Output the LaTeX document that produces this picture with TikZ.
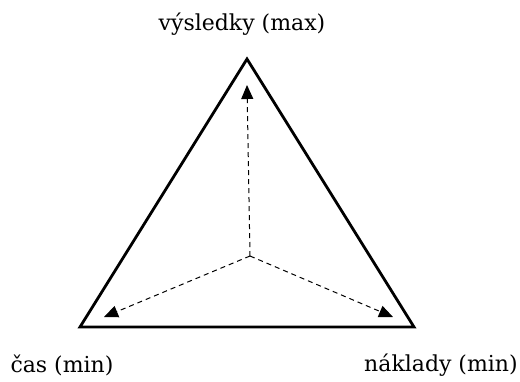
\documentclass[tikz,border=0pt]{standalone}
\usepackage{fontspec}
\setmainfont{DejaVu Serif}
\usepackage{tikz}
\usetikzlibrary{calc,arrows.meta,positioning}

\begin{document}
\begin{tikzpicture}[x=0.5pt, y=-0.5pt, font=\fontsize{11}{13}\selectfont]
    \useasboundingbox (0, 0) rectangle (520, 381);
    % Vertices of the triangle
    \coordinate (Top) at (247, 59);
    \coordinate (Left) at (80, 327);
    \coordinate (Right) at (414, 327);
    \coordinate (Centre) at (250, 256);
    
    % Triangle
    \draw[line width=1.4pt, line join=miter] (Top) -- (Left) -- (Right) -- cycle;
    
    % Arrow ends near the corners
    \coordinate (TipTop) at (247, 85);
    \coordinate (TipLeft) at (104, 317);
    \coordinate (TipRight) at (393, 317);
    
    % Dashed arrows from the centre
    \draw[dash pattern=on 2.5pt off 2pt, line width=0.5pt, -{Triangle[length=7pt, width=6pt]}] (Centre) -- (TipTop);
    \draw[dash pattern=on 2.5pt off 2pt, line width=0.5pt, -{Triangle[length=7pt, width=6pt]}] (Centre) -- (TipLeft);
    \draw[dash pattern=on 2.5pt off 2pt, line width=0.5pt, -{Triangle[length=7pt, width=6pt]}] (Centre) -- (TipRight);
    
    % Labels
    \node (results) at (242, 24) {výsledky (max)};
    \node (time) at (62, 365) {čas (min)};
    \node (costs) at (441, 365) {náklady (min)};
\end{tikzpicture}
\end{document}
